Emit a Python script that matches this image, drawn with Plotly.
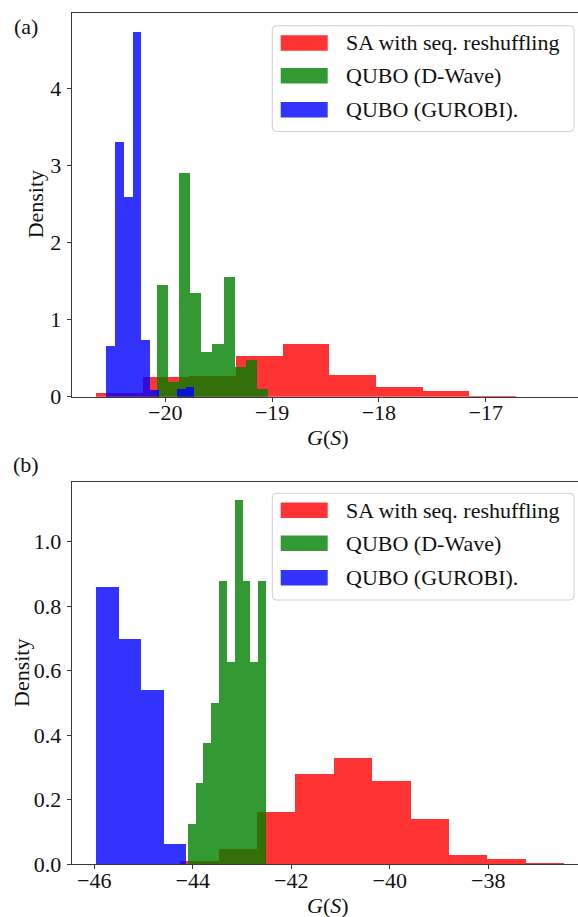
import numpy as np
import plotly.graph_objects as go

# ---------------- data ----------------
series_names = ["SA with seq. reshuffling", "QUBO (D-Wave)", "QUBO (GUROBI)."]

# panel (a): histogram bins (first left edge, bin width, density per bin)
a_red_start, a_red_width = -20.652, 0.437
a_red_density = [0.043, 0.26, 0.27, 0.53, 0.68, 0.285, 0.125, 0.08, 0.007, 0.002]
a_green_start, a_green_width = -20.081, 0.104
a_green_density = [1.45, 0.195, 2.90, 1.35, 0.58, 0.68, 1.55, 0.39, 0.48, 0.10]
a_blue_start, a_blue_width = -20.555, 0.0824
a_blue_density = [0.66, 3.30, 2.59, 4.73, 0.73, 0.085, 0.0, 0.0, 0.10, 0.12]

# panel (b)
b_red_start, b_red_width = -44.258, 0.779
b_red_density = [0.012, 0.048, 0.163, 0.28, 0.332, 0.258, 0.14, 0.029, 0.016, 0.005]
b_green_start, b_green_width = -44.11, 0.1594
b_green_density = [0.125, 0.254, 0.377, 0.502, 0.878, 0.628, 1.129, 0.878, 0.628, 0.878]
b_blue_start, b_blue_width = -45.97, 0.459
b_blue_density = [0.86, 0.70, 0.54, 0.065]

# ticks
a_xticks = [-20, -19, -18, -17]
a_yticks = [0, 1, 2, 3, 4]
b_xticks = [-46, -44, -42, -40, -38]
b_yticks = [0.0, 0.2, 0.4, 0.6, 0.8, 1.0]
a_xticktext = ["\u221220", "\u221219", "\u221218", "\u221217"]
a_yticktext = ["0", "1", "2", "3", "4"]
b_xticktext = ["\u221246", "\u221244", "\u221242", "\u221240", "\u221238"]
b_yticktext = ["0.0", "0.2", "0.4", "0.6", "0.8", "1.0"]

# ---------------- styling ----------------
W, H = 578, 917
FONT = "Liberation Serif"
FS = 22
COLORS = ["rgba(255,0,0,0.8)", "rgba(0,128,0,0.8)", "rgba(0,0,255,0.8)"]
SPINE = "#3a3a3a"
TXT = dict(family=FONT, size=FS, color="#111")


def px_x(p):
    return p / W


def px_y(p):
    return 1 - p / H


fig = go.Figure()


def add_hist(start, width, dens, color, xa, ya):
    dens = np.asarray(dens, dtype=float)
    centers = start + width * (np.arange(len(dens)) + 0.5)
    fig.add_trace(go.Bar(
        x=centers, y=dens, width=width,
        marker=dict(color=color, line=dict(width=0)),
        xaxis=xa, yaxis=ya, showlegend=False, hoverinfo="x+y",
    ))


add_hist(a_red_start, a_red_width, a_red_density, COLORS[0], "x", "y")
add_hist(a_green_start, a_green_width, a_green_density, COLORS[1], "x", "y")
add_hist(a_blue_start, a_blue_width, a_blue_density, COLORS[2], "x", "y")
add_hist(b_red_start, b_red_width, b_red_density, COLORS[0], "x2", "y2")
add_hist(b_green_start, b_green_width, b_green_density, COLORS[1], "x2", "y2")
add_hist(b_blue_start, b_blue_width, b_blue_density, COLORS[2], "x2", "y2")

AX_LEFT = 71.7
x_dom = [AX_LEFT / W, 1.0]
a_top, a_bot = 13.0, 396.7
b_top, b_bot = 481.7, 864.3

fig.update_layout(
    template="none",
    width=W, height=H,
    margin=dict(l=0, r=0, t=0, b=0),
    paper_bgcolor="white", plot_bgcolor="white",
    barmode="overlay", bargap=0,
    showlegend=False,
    font=TXT,
    xaxis=dict(domain=x_dom, anchor="y", range=[-20.876, -16.136], mirror=True,
               tickmode="array", tickvals=a_xticks, ticktext=a_xticktext),
    yaxis=dict(domain=[px_y(a_bot), px_y(a_top)], anchor="x", range=[0, 4.977],
               tickmode="array", tickvals=a_yticks, ticktext=a_yticktext),
    xaxis2=dict(domain=x_dom, anchor="y2", range=[-46.459, -36.177], mirror=True,
                tickmode="array", tickvals=b_xticks, ticktext=b_xticktext),
    yaxis2=dict(domain=[px_y(b_bot), px_y(b_top)], anchor="x2", range=[0, 1.186],
                tickmode="array", tickvals=b_yticks, ticktext=b_yticktext),
)

common = dict(
    showline=True, linecolor=SPINE, linewidth=1.2,
    ticks="outside", ticklen=4, tickwidth=1, tickcolor=SPINE,
    showgrid=False, zeroline=False,
    tickfont=TXT, automargin=False,
)
fig.update_xaxes(ticklabelstandoff=-8, **common)
fig.update_yaxes(ticklabelstandoff=1, **common)

annotations = []
shapes = []

# panel labels
for lab, cy in (("(a)", 27), ("(b)", 464)):
    annotations.append(dict(text=lab, x=px_x(26), y=px_y(cy), xref="paper", yref="paper",
                            xanchor="center", yanchor="middle", showarrow=False, font=TXT))

# axis titles
for cy in (437, 905):
    annotations.append(dict(text="<i>G</i>(<i>S</i>)", x=px_x(328), y=px_y(cy),
                            xref="paper", yref="paper", xanchor="center", yanchor="middle",
                            showarrow=False, font=TXT))
for cx, cy in ((35.5, (a_top + a_bot) / 2), (21.0, (b_top + b_bot) / 2)):
    annotations.append(dict(text="Density", x=px_x(cx), y=px_y(cy), xref="paper", yref="paper",
                            xanchor="center", yanchor="middle", textangle=-90, showarrow=False,
                            font=TXT))


def rounded_rect(x0, y0, x1, y1, r):
    X = lambda v: f"{px_x(v):.5f}"
    Y = lambda v: f"{px_y(v):.5f}"
    pts = [
        f"M {X(x0 + r)},{Y(y0)}",
        f"L {X(x1 - r)},{Y(y0)}",
        f"Q {X(x1)},{Y(y0)} {X(x1)},{Y(y0 + r)}",
        f"L {X(x1)},{Y(y1 - r)}",
        f"Q {X(x1)},{Y(y1)} {X(x1 - r)},{Y(y1)}",
        f"L {X(x0 + r)},{Y(y1)}",
        f"Q {X(x0)},{Y(y1)} {X(x0)},{Y(y1 - r)}",
        f"L {X(x0)},{Y(y0 + r)}",
        f"Q {X(x0)},{Y(y0)} {X(x0 + r)},{Y(y0)} Z",
    ]
    return " ".join(pts)


# legends (drawn manually to get matplotlib-like wide patches)
for box_top, box_bot, row_centers in ((25.7, 131.5, (43.0, 75.8, 109.8)),
                                      (493.3, 600.0, (510.3, 543.3, 577.8))):
    shapes.append(dict(type="path", xref="paper", yref="paper",
                       path=rounded_rect(272.3, box_top, 574.0, box_bot, 4),
                       fillcolor="rgba(255,255,255,0.8)", line=dict(color="#d0d0d0", width=1)))
    for name, col, cy in zip(series_names, COLORS, row_centers):
        shapes.append(dict(type="rect", xref="paper", yref="paper",
                           x0=px_x(280.7), x1=px_x(327.7), y0=px_y(cy + 7.8), y1=px_y(cy - 7.8),
                           fillcolor=col, line=dict(width=0)))
        annotations.append(dict(text=name, x=px_x(344.3), y=px_y(cy), xref="paper", yref="paper",
                                xanchor="left", yanchor="middle", showarrow=False, font=TXT))

fig.update_layout(annotations=annotations, shapes=shapes)

fig.write_html(
    "out.html",
    config={"displayModeBar": False},
    post_script="document.body.style.margin='0';document.body.style.overflow='hidden';",
)
